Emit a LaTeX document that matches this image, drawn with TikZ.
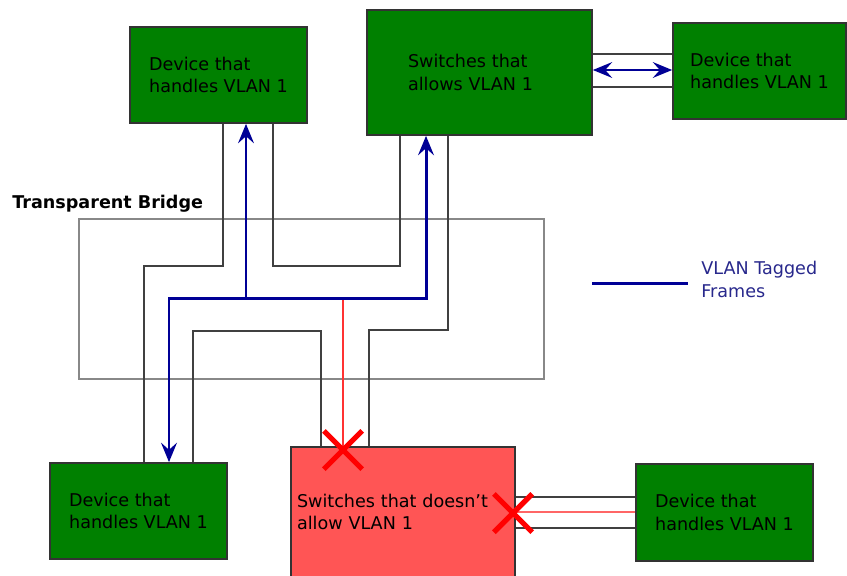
\documentclass[tikz,border=0pt]{standalone}
\usepackage{fontspec}
\setmainfont{DejaVu Sans}
\usetikzlibrary{arrows.meta,shapes.misc}

\definecolor{devgreen}{RGB}{0,128,0}
\definecolor{blockred}{RGB}{255,85,85}
\definecolor{tagblue}{RGB}{0,0,150}
\definecolor{keyblue}{RGB}{40,40,140}
\definecolor{wiregray}{RGB}{64,64,64}
\definecolor{bridgegray}{RGB}{136,136,136}

\begin{document}
\begin{tikzpicture}
                    [x=0.02cm, y=-0.02cm,
                     every node/.style={font=\fontsize{10}{12.8}\selectfont, align=left},
                     box/.style={rectangle, draw=black!80, line width=1pt, fill=devgreen, inner sep=0pt}]
                    \tikzset{vlan/.tip = {Stealth[length=11pt,width=9pt,inset=4pt]},
                             wire/.style = {draw=wiregray, line width=1.1pt},
                             tagged/.style = {draw=tagblue, line width=1.7pt},
                             blocked/.style = {draw=red!80!white, line width=1.5pt},
                             nogo/.style = {cross out, draw=red, line width=3pt, minimum size=0.66cm, inner sep=0pt}}
                    \useasboundingbox (0,0) rectangle (847,575);

                    % the bridge
                    \node[draw=bridgegray, line width=1.1pt, minimum width=9.3cm, minimum height=3.2cm] (bridge) at (311.5,299) {};
                    \node[anchor=base west, inner sep=0pt, font=\fontsize{10}{12.8}\selectfont\bfseries] (bridge-label) at (12,208) {Transparent Bridge};

                    % devices and switches
                    \node[box, minimum width=3.54cm, minimum height=1.92cm] (dev1) at (218.5,75)  {Device that\\handles VLAN 1};
                    \node[box, minimum width=4.5cm,  minimum height=2.5cm, text width=2.86cm] (sw1) at (479.5,72.5) {Switches that\\allows VLAN 1};
                    \node[box, minimum width=3.46cm, minimum height=1.92cm] (dev2) at (759.5,71)  {Device that\\handles VLAN 1};
                    \node[box, minimum width=3.54cm, minimum height=1.92cm] (dev3) at (138.5,511) {Device that\\handles VLAN 1};
                    \node[box, fill=blockred, minimum width=4.48cm, minimum height=2.6cm, text width=4.24cm] (sw2) at (403,512) {Switches that doesn't\\allow VLAN 1};
                    \node[box, minimum width=3.54cm, minimum height=1.94cm] (dev4) at (724.5,512.5) {Device that\\handles VLAN 1};

                    % legend
                    \node[anchor=base west, inner sep=0pt, text=keyblue] (key) at (701,297) {VLAN Tagged\\Frames};
                    \coordinate (key-a) at (592,283);
                    \coordinate (key-b) at (688,283);
                    \draw[tagged] (key-a) -- (key-b);

                    % cables through the bridge
                    \draw[wire] (dev1.south -| 223,0) |- (144,266) -- (dev3.north -| 144,0);
                    \draw[wire] (dev1.south -| 273,0) |- (400,266) -- (sw1.south -| 400,0);
                    \draw[wire] (sw1.south -| 448,0) |- (369,330) -- (sw2.north -| 369,0);
                    \draw[wire] (dev3.north -| 193,0) |- (321,331) -- (sw2.north -| 321,0);
                    \foreach \y in {54,87}
                        \draw[wire] (sw1.east |- 0,\y) -- (dev2.west |- 0,\y);
                    \foreach \y in {497,528}
                        \draw[wire] (sw2.east |- 0,\y) -- (dev4.west |- 0,\y);

                    % frames
                    \coordinate (hub) at (246,298);
                    \coordinate (tap) at (343,298);
                    \draw[blocked] (tap) -- (tap |- sw2.north);
                    \draw[blocked, line width=1.1pt, draw=red!60!white] (sw2.east |- 0,512) -- (dev4.west |- 0,512);
                    \draw[tagged, -vlan] (hub) -- (hub |- dev1.south);
                    \draw[tagged, -vlan] (hub) -| (dev3.north -| 169,0);
                    \draw[tagged, -vlan] (hub) -| (sw1.south -| 426,0);
                    \draw[tagged, line width=1.2pt, vlan-vlan] (sw1.east |- 0,70) -- (dev2.west |- 0,70);

                    \node[nogo] (cut1) at (343,450) {};
                    \node[nogo] (cut2) at (513,513) {};
                \end{tikzpicture}
\end{document}
